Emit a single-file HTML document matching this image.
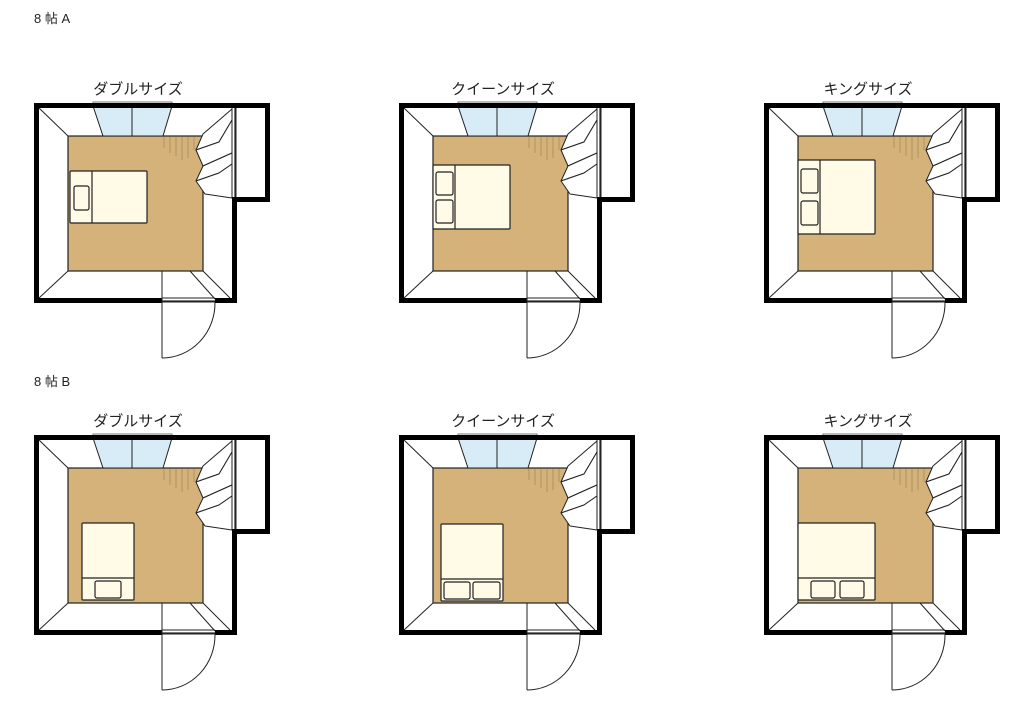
<!DOCTYPE html>
<html><head><meta charset="utf-8"><style>
body{margin:0;background:#fff;}
svg{display:block}
text{font-family:"Liberation Sans","Noto Sans CJK JP",sans-serif;fill:#222}
</style></head><body>
<svg width="1024" height="701" viewBox="0 0 1024 701" xmlns="http://www.w3.org/2000/svg">
<defs>
<g id="room">
  <rect x="36" y="105" width="199" height="196" fill="#fff"/>
  <rect x="68" y="136" width="135" height="135" fill="#d4b27a"/>
  <g stroke="#a88a5a" stroke-width="0.8">
    <line x1="164" y1="136" x2="164" y2="148"/><line x1="170" y1="136" x2="170" y2="153"/>
    <line x1="176" y1="136" x2="176" y2="156"/><line x1="182" y1="136" x2="182" y2="160"/>
    <line x1="188" y1="136" x2="188" y2="158"/><line x1="194" y1="136" x2="194" y2="150"/>
  </g>
  <rect x="68" y="136" width="135" height="135" fill="none" stroke="#222" stroke-width="1"/>
  <polygon points="93,106 172,106 163,136 103,136" fill="#d8ecf8" stroke="#222" stroke-width="1"/>
  <line x1="132" y1="106" x2="132" y2="136" stroke="#222" stroke-width="1"/>
  <rect x="93" y="102" width="79" height="4" fill="#fff" stroke="#555" stroke-width="0.8"/>
  <g stroke="#222" stroke-width="1" fill="none">
    <line x1="39" y1="108" x2="68" y2="136"/>
    <line x1="39" y1="298" x2="68" y2="271"/>
    <line x1="162" y1="271" x2="162" y2="299"/>
    <line x1="190" y1="271" x2="215" y2="299"/>
    <line x1="203" y1="271" x2="230" y2="298"/>
    <line x1="232" y1="108" x2="232" y2="198"/>
    <line x1="236" y1="108" x2="236" y2="198"/>
  </g>
  <g stroke="#222" stroke-width="1" fill="#fff" stroke-linejoin="round">
    <polygon points="232,109 203,134 196,150 219,142 232,120"/>
    <polygon points="232,120 219,142 196,150 203,166 232,153"/>
    <polygon points="232,153 203,166 196,181 219,173 232,164"/>
    <polygon points="232,164 219,173 196,181 205,194 232,198"/>
  </g>
  <path d="M162,300.5 H36.5 V105.5 H267.5 V199.5 H234.5 V300.5 H215" fill="none" stroke="#000" stroke-width="5" stroke-linejoin="miter"/>
  <g stroke="#222" stroke-width="1" fill="none">
    <line x1="162" y1="298" x2="215" y2="298"/>
    <line x1="162" y1="302" x2="215" y2="302"/>
    <line x1="162" y1="298" x2="162" y2="358"/>
    <path d="M215,302 A53,55 0 0 1 162,358"/>
  </g>
</g>
</defs>

<text x="34" y="23" font-size="13">8 帖 A</text>
<text x="34" y="386" font-size="13">8 帖 B</text>

<g font-size="15" text-anchor="middle">
<text x="138" y="94">ダブルサイズ</text>
<text x="503" y="94">クイーンサイズ</text>
<text x="868" y="94">キングサイズ</text>
<text x="138" y="426">ダブルサイズ</text>
<text x="503" y="426">クイーンサイズ</text>
<text x="868" y="426">キングサイズ</text>
</g>

<g stroke="#222" stroke-width="1.2" fill="#fffbe6">
<g>
  <use href="#room"/>
  <rect x="70" y="171" width="77" height="52" rx="1"/>
  <line x1="92" y1="171" x2="92" y2="223"/>
  <rect x="74" y="186" width="15" height="24" rx="2"/>
</g>
<g transform="translate(365,0)">
  <use href="#room"/>
  <rect x="68" y="165" width="77" height="64" rx="1"/>
  <line x1="90" y1="165" x2="90" y2="229"/>
  <rect x="71" y="172" width="17" height="23" rx="2"/>
  <rect x="71" y="200" width="17" height="23" rx="2"/>
</g>
<g transform="translate(730,0)">
  <use href="#room"/>
  <rect x="68" y="160" width="77" height="74" rx="1"/>
  <line x1="90" y1="160" x2="90" y2="234"/>
  <rect x="71" y="169" width="17" height="24" rx="2"/>
  <rect x="71" y="201" width="17" height="24" rx="2"/>
</g>
<g transform="translate(0,332)">
  <use href="#room"/>
  <rect x="82" y="191" width="52" height="77" rx="1"/>
  <line x1="82" y1="246" x2="134" y2="246"/>
  <rect x="95" y="249" width="26" height="17" rx="2"/>
</g>
<g transform="translate(365,332)">
  <use href="#room"/>
  <rect x="76" y="192" width="62" height="77" rx="1"/>
  <line x1="76" y1="247" x2="138" y2="247"/>
  <rect x="79" y="250" width="26" height="17" rx="2"/>
  <rect x="108" y="250" width="27" height="17" rx="2"/>
</g>
<g transform="translate(730,332)">
  <use href="#room"/>
  <rect x="68" y="191" width="77" height="77" rx="1"/>
  <line x1="68" y1="246" x2="145" y2="246"/>
  <rect x="81" y="249" width="24" height="17" rx="2"/>
  <rect x="110" y="249" width="24" height="17" rx="2"/>
</g>
</g>
</svg>
</body></html>
